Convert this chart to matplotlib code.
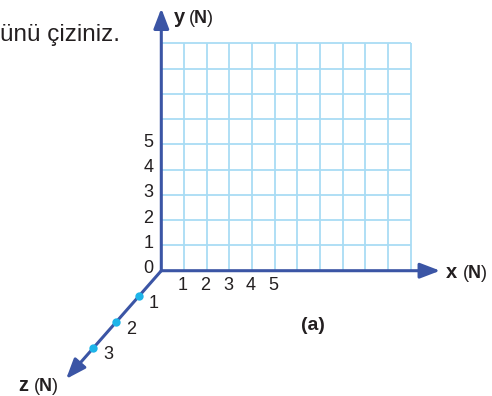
import matplotlib
matplotlib.use("Agg")
import matplotlib.pyplot as plt
import numpy as np

plt.rcParams['font.family'] = ['Liberation Sans', 'DejaVu Sans']
plt.rcParams['mathtext.fontset'] = 'custom'
plt.rcParams['mathtext.rm'] = 'Liberation Sans'
plt.rcParams['mathtext.bf'] = 'Liberation Sans:bold'

# ---- data ----
grid_cols = 11
grid_rows = 9
x_ticks = [1, 2, 3, 4, 5]
y_ticks = [0, 1, 2, 3, 4, 5]
z_ticks = [1, 2, 3]
x_tick_labels = ["1", "2", "3", "4", "5"]
y_tick_labels = ["0", "1", "2", "3", "4", "5"]
z_tick_labels = ["1", "2", "3"]
axis_names = ["x", "y", "z"]
x_axis_end = 12.3
y_axis_end = 10.38
z_axis_end = 4.2
z_dir = (-1.0, -1.02)   # oblique projection of the z axis

GRID_C = "#a9dcf4"
AXIS_C = "#3b55a5"
DOT_C = "#1db4e9"
TXT_C = "#231f20"

fig = plt.figure(figsize=(4.92, 3.96), dpi=100)
ax = fig.add_axes([0, 0, 1, 1])
ax.set_xlim(-7.115, 14.587)
ax.set_ylim(-4.958, 10.712)
ax.axis('off')

# grid
ax.vlines(np.arange(0, grid_cols + 1), 0, grid_rows, color=GRID_C, lw=1.3, zorder=1)
ax.hlines(np.arange(0, grid_rows + 1), 0, grid_cols, color=GRID_C, lw=1.3, zorder=1)

# axes arrows
arrow_kw = dict(arrowstyle='-|>,head_length=0.55,head_width=0.21', color=AXIS_C, lw=2.2,
                shrinkA=0, shrinkB=0, mutation_scale=22)
ax.annotate('', xy=(x_axis_end, 0), xytext=(0, 0), arrowprops=arrow_kw, zorder=3)
ax.annotate('', xy=(0, y_axis_end), xytext=(0, 0), arrowprops=arrow_kw, zorder=3)
ax.annotate('', xy=(z_dir[0] * z_axis_end, z_dir[1] * z_axis_end), xytext=(0, 0),
            arrowprops=arrow_kw, zorder=3)

# z dots
zt = np.array(z_ticks, dtype=float)
ax.plot(zt * z_dir[0], zt * z_dir[1], 'o', color=DOT_C, ms=6, mec='none', zorder=4)
for z, lab in zip(z_ticks, z_tick_labels):
    ax.annotate(lab, xy=(z * z_dir[0], z * z_dir[1]), xytext=(11, -5),
                textcoords='offset points', ha='center', va='center',
                fontsize=13, color=TXT_C)

# tick labels
for x, lab in zip(x_ticks, x_tick_labels):
    ax.text(x - 0.06, -0.57, lab, ha='center', va='center', fontsize=13, color=TXT_C)
for y, lab in zip(y_ticks, y_tick_labels):
    ax.text(-0.35, y + 0.08, lab, ha='right', va='center', fontsize=13, color=TXT_C)

# axis labels: bold letter + unit
label_pos = {  # letter right, unit left, baseline
    "x": (13.03, 13.25, -0.30),
    "y": (1.045, 1.19, 9.79),
    "z": (-5.87, -5.65, -4.76),
}
for name in axis_names:
    lx, ux, by = label_pos[name]
    ax.text(lx, by, name, ha='right', va='baseline', fontsize=14.5,
            fontweight='bold', color=TXT_C)
    ax.text(ux, by, r"($\mathbf{N}$)", ha='left', va='baseline', fontsize=13,
            color=TXT_C)

ax.text(6.69, -2.15, "(a)", ha='center', va='center', fontsize=14,
        fontweight='bold', color=TXT_C)

ax.text(-7.095, 9.09, "ünü çiziniz.", ha='left', va='baseline', fontsize=17.5, color=TXT_C)

fig.savefig("out.png", dpi=100)
